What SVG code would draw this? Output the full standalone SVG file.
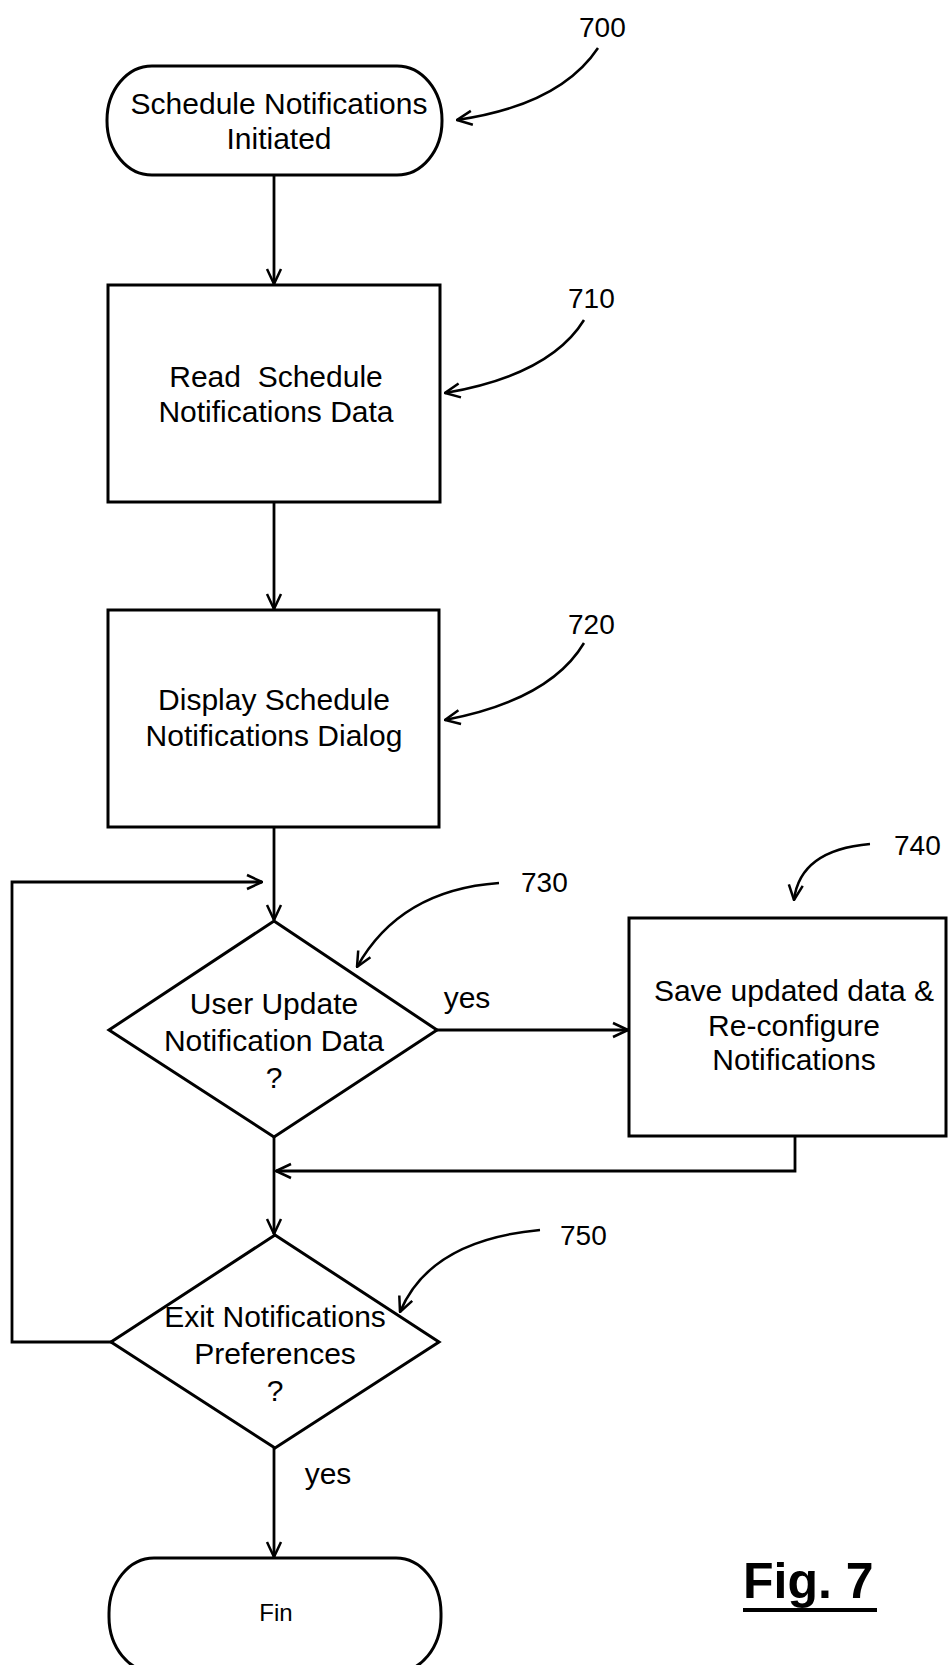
<svg xmlns="http://www.w3.org/2000/svg" width="949" height="1665" viewBox="0 0 949 1665">
<defs>
<style>
.shape{fill:#fff;stroke:#000;stroke-width:3}
.ln{fill:none;stroke:#000;stroke-width:2.8}
.ld{fill:none;stroke:#000;stroke-width:2.5}
.t{font-family:"Liberation Sans",Arial,sans-serif;font-size:30px;fill:#000;text-anchor:middle}
.ref{font-family:"Liberation Sans",Arial,sans-serif;font-size:28px;fill:#000}
</style>
<marker id="arr" markerUnits="userSpaceOnUse" viewBox="0 0 18 18" refX="17" refY="9" markerWidth="18" markerHeight="18" orient="auto">
<path d="M2,2 L17,9 L2,16" fill="none" stroke="#000" stroke-width="2.5"/>
</marker>
</defs>
<rect width="949" height="1665" fill="#fff"/>
<g id="connectors">
<line class="ln" x1="274" y1="175" x2="274" y2="284" marker-end="url(#arr)"/>
<line class="ln" x1="274" y1="502" x2="274" y2="609" marker-end="url(#arr)"/>
<line class="ln" x1="274" y1="827" x2="274" y2="920" marker-end="url(#arr)"/>
<line class="ln" x1="437" y1="1030" x2="628" y2="1030" marker-end="url(#arr)"/>
<polyline class="ln" points="795,1136 795,1171 276,1171" marker-end="url(#arr)"/>
<line class="ln" x1="274" y1="1137" x2="274" y2="1234" marker-end="url(#arr)"/>
<polyline class="ln" points="111,1342 12,1342 12,882 262,882" marker-end="url(#arr)"/>
<line class="ln" x1="274" y1="1448" x2="274" y2="1557" marker-end="url(#arr)"/>
<text class="t" x="467" y="1008">yes</text>
<text class="t" x="328" y="1484">yes</text>
</g>
<g id="n700">
<rect class="shape" x="107" y="66" width="335" height="109" rx="45" ry="54"/>
<text class="t" x="279" y="114">Schedule Notifications</text>
<text class="t" x="279" y="149">Initiated</text>
<text class="ref" x="579" y="37">700</text>
<path class="ld" d="M598,48 Q560,105 457,120" marker-end="url(#arr)"/>
</g>
<g id="n710">
<rect class="shape" x="108" y="285" width="332" height="217"/>
<text class="t" x="276" y="387" xml:space="preserve">Read  Schedule</text>
<text class="t" x="276" y="422">Notifications Data</text>
<text class="ref" x="568" y="308">710</text>
<path class="ld" d="M584,320 Q550,375 445,393" marker-end="url(#arr)"/>
</g>
<g id="n720">
<rect class="shape" x="108" y="610" width="331" height="217"/>
<text class="t" x="274" y="710">Display Schedule</text>
<text class="t" x="274" y="746">Notifications Dialog</text>
<text class="ref" x="568" y="634">720</text>
<path class="ld" d="M584,643 Q550,700 445,720" marker-end="url(#arr)"/>
</g>
<g id="n730">
<polygon class="shape" points="274,921 437,1030 274,1137 109,1030"/>
<text class="t" x="274" y="1014">User Update</text>
<text class="t" x="274" y="1051">Notification Data</text>
<text class="t" x="274" y="1088">?</text>
<text class="ref" x="521" y="892">730</text>
<path class="ld" d="M499,883 Q400,890 357,967" marker-end="url(#arr)"/>
</g>
<g id="n740">
<rect class="shape" x="629" y="918" width="317" height="218"/>
<text class="t" x="794" y="1001">Save updated data &amp;</text>
<text class="t" x="794" y="1036">Re-configure</text>
<text class="t" x="794" y="1070">Notifications</text>
<text class="ref" x="894" y="855">740</text>
<path class="ld" d="M870,844 Q800,850 794,900" marker-end="url(#arr)"/>
</g>
<g id="n750">
<polygon class="shape" points="275,1235 439,1342 275,1448 111,1342"/>
<text class="t" x="275" y="1327">Exit Notifications</text>
<text class="t" x="275" y="1364">Preferences</text>
<text class="t" x="275" y="1401">?</text>
<text class="ref" x="560" y="1245">750</text>
<path class="ld" d="M540,1230 Q430,1240 400,1312" marker-end="url(#arr)"/>
</g>
<g id="nfin">
<rect class="shape" x="109" y="1558" width="332" height="114" rx="45" ry="55"/>
<text class="t" x="276" y="1621" style="font-size:24px">Fin</text>
</g>
<g id="fig">
<text x="743" y="1598" style="font-family:'Liberation Sans',Arial,sans-serif;font-size:50px;font-weight:bold;fill:#000">Fig. 7</text>
<line x1="743" y1="1610" x2="877" y2="1610" stroke="#000" stroke-width="4"/>
</g>
</svg>
